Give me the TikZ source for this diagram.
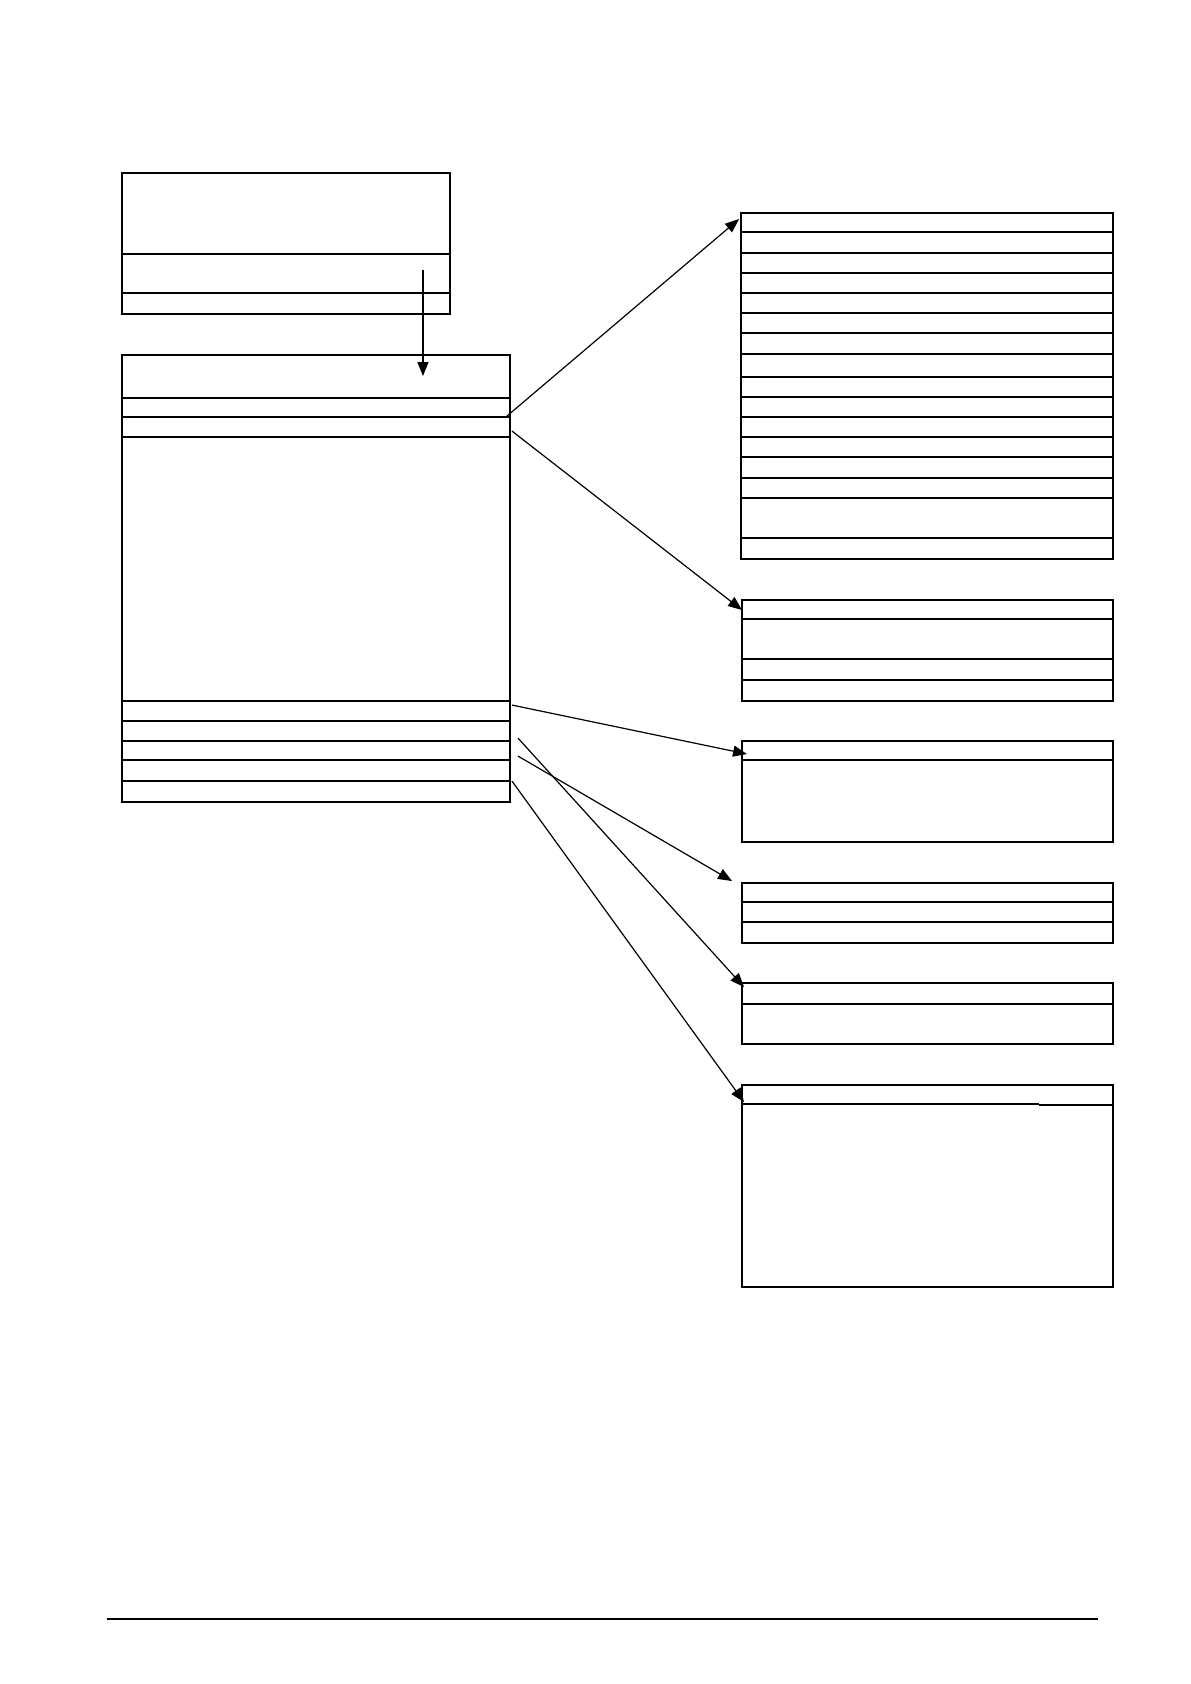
\documentclass[tikz,border=0pt]{standalone}
\usetikzlibrary{arrows.meta,calc,fit}

\begin{document}
\begin{tikzpicture}
	[
		x=0.5pt, y=-0.5pt,
		box/.style = {shape=rectangle, draw, line width=0.95pt, inner sep=0pt},
		row/.style = {line width=0.6pt},
		bar/.style = {line width=0.95pt},
		link/.style = {line width=0.6pt, -{Triangle[length=7pt, width=5.5pt]}}
	]
	
	\useasboundingbox (0,0) rectangle (1190,1684);
	
	\node [box, fit={(122,173) (450,314)}] (A) {};
	\draw [bar] (122,254) -- (450,254);
	\draw [row] (122,293) -- (450,293);
	
	\node [box, fit={(122,355) (510,802)}] (B) {};
	\foreach \y in {398,701,721,741}
		\draw [bar] (122,\y) -- (510,\y);
	\foreach \y in {417,437,760,781}
		\draw [row] (122,\y) -- (510,\y);
	
	\node [box, fit={(741,213) (1113,559)}] (C) {};
	\foreach \y in {232,253,273,293,313,333,354,377,397,417,437,457,478,498,538}
		\draw [row] (741,\y) -- (1113,\y);
	
	\node [box, fit={(742,600) (1113,701)}] (D) {};
	\foreach \y in {619,659,680}
		\draw [row] (742,\y) -- (1113,\y);
	
	\node [box, fit={(742,741) (1113,842)}] (E) {};
	\draw [row] (742,760) -- (1113,760);
	
	\node [box, fit={(742,883) (1113,943)}] (F) {};
	\foreach \y in {902,922}
		\draw [row] (742,\y) -- (1113,\y);
	
	\node [box, fit={(742,983) (1113,1044)}] (G) {};
	\draw [row] (742,1004) -- (1113,1004);
	
	\node [box, fit={(742,1085) (1113,1287)}] (H) {};
	\draw [row] (742,1104) -- (1039,1104);
	\draw [bar] (1039,1105) -- (1113,1105);
	
	\draw [link] ($(A.south east)+(-28,-45)$) -- ($(B.north east)+(-88,22)$);
	
	\draw [link] ($(B.north east)+(-4,62)$) -- ($(C.north west)+(-1,7)$);
	\draw [link] ($(B.north east)+(1,77)$) -- ($(D.north west)+(1,11)$);
	\draw [link] ($(B.north east)+(1,351)$) -- ($(E.north west)+(6,14)$);
	\draw [link] ($(B.north east)+(7,402)$) -- ($(F.north west)+(-9,-1)$);
	\draw [link] ($(B.north east)+(7,384)$) -- ($(G.north west)+(3,5)$);
	\draw [link] ($(B.north east)+(1,427)$) -- ($(H.north west)+(3,18)$);
	
	\draw [line width=0.6pt] (107,1619) -- (1098,1619);
	
\end{tikzpicture}
\end{document}
